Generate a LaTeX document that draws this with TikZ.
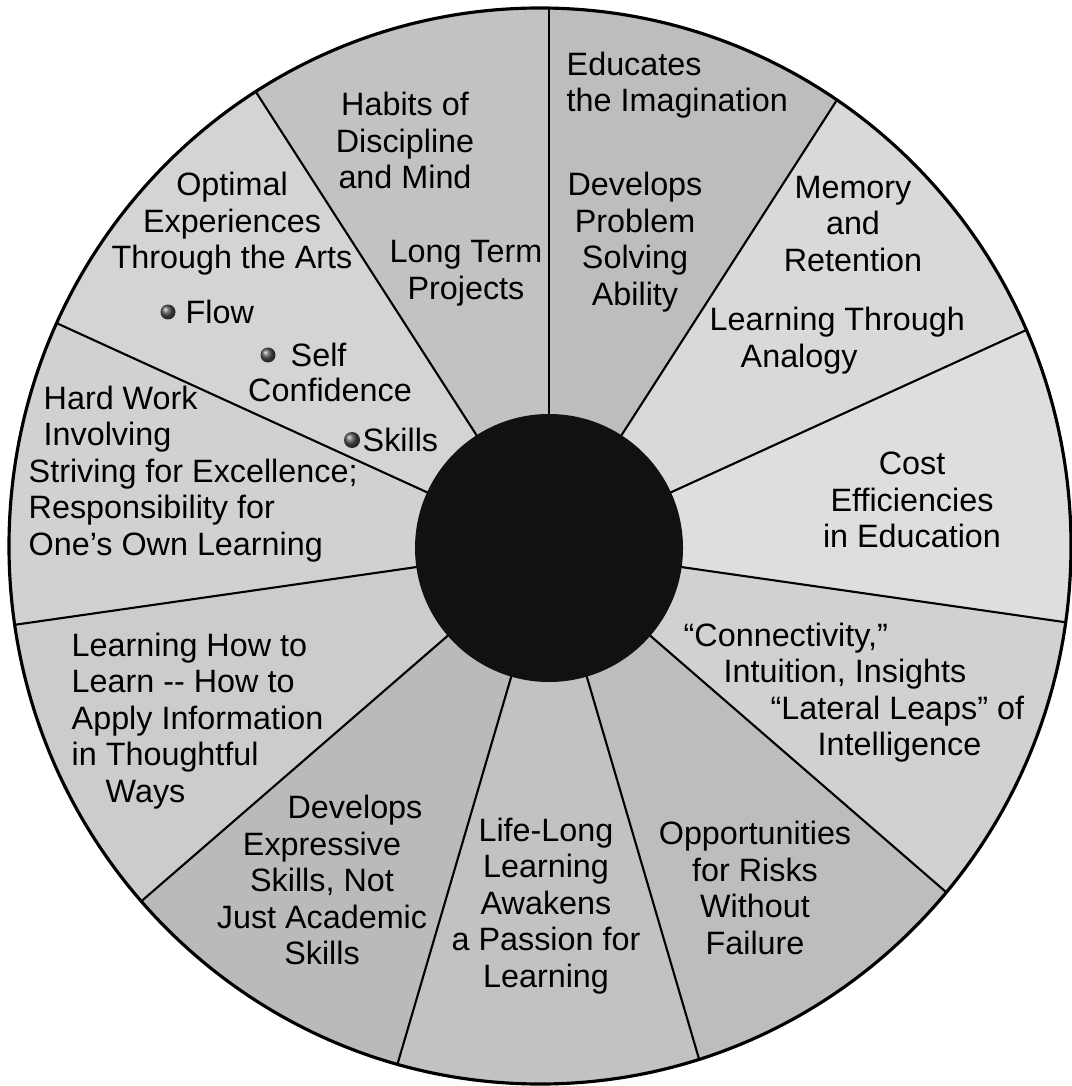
\documentclass[tikz,border=0pt]{standalone}
\usepackage{fontspec}
\setmainfont{Liberation Sans}
\usetikzlibrary{calc}
\definecolor{hub}{HTML}{111111}
\definecolor{dotgray}{HTML}{505050}

\begin{document}
\begin{tikzpicture}[
  txt/.style={align=center, inner sep=0pt, font=\fontsize{9.2}{10.4}\selectfont},
  lefttxt/.style={txt, align=left, anchor=west},
  spoke/.style={line width=0.6pt},
  bullet/.style={ball color=dotgray}]
  \useasboundingbox (0,0) rectangle (10.71,-10.86);
  \coordinate (c) at (5.49,-5.48);
  \coordinate (o) at (5.40,-5.46);
  % Sectors and spokes
  \begin{scope}
    \clip (o) ellipse [x radius=5.31, y radius=5.38];
    \foreach \k/\s in {0/26, 1/15, 2/13, 3/18, 4/26, 5/24, 6/27, 7/20, 8/18, 9/17, 10/24}
      \fill[black!\s] (c) -- +({90-\k*360/11}:8) -- +({90-(\k+0.5)*360/11}:8)
        -- +({90-(\k+1)*360/11}:8) -- cycle;
    \foreach \k in {0,...,10}
      \draw[spoke] (c) -- +({90-\k*360/11}:8);
  \end{scope}
  \draw[line width=0.9pt] (o) ellipse [x radius=5.31, y radius=5.38];
  % Hub
  \fill[hub] (c) circle (1.34);
  % Upper left
  \node[txt] (habits) at (4.05,-1.405) {Habits of\\Discipline\\and Mind};
  \node[txt] (longterm) at (4.66,-2.735) {Long Term\\Projects};
  \node[txt] (optimal) at (2.32,-2.24) {Optimal\\Experiences\\Through the Arts};
  \shade[bullet] (1.68,-3.12) circle (0.075);
  \node[lefttxt] (flow) at (1.85,-3.12) {Flow};
  \shade[bullet] (2.68,-3.55) circle (0.075);
  \node[lefttxt] (self) at (2.90,-3.55) {Self};
  \node[txt] (confidence) at (3.30,-3.90) {Confidence};
  \shade[bullet] (3.52,-4.40) circle (0.08);
  \node[lefttxt] (skills) at (3.62,-4.40) {Skills};
  \node[lefttxt] (hardwork) at (0.28,-4.74)
    {\hspace*{0.15cm}Hard Work\\\hspace*{0.15cm}Involving\\Striving for Excellence;\\Responsibility for\\One's Own Learning};
  % Upper right
  \node[lefttxt] (educates) at (5.66,-0.85) {Educates\\the Imagination};
  \node[txt] (develops) at (6.35,-2.42) {Develops\\Problem\\Solving\\Ability};
  \node[txt] (memory) at (8.53,-2.24) {Memory\\and\\Retention};
  \node[lefttxt] (analogy) at (7.09,-3.405) {Learning Through\\\hspace*{0.31cm}Analogy};
  \node[txt] (cost) at (9.12,-5.00) {Cost\\Efficiencies\\in Education};
  % Lower right
  \node[lefttxt] (connect) at (6.83,-6.925)
    {``Connectivity,''\\\hspace*{0.40cm}Intuition, Insights\\\hspace*{0.87cm}``Lateral Leaps'' of\\\hspace*{1.34cm}Intelligence};
  \node[txt] (risks) at (7.55,-8.88) {Opportunities\\for Risks\\Without\\Failure};
  \node[txt] (lifelong) at (5.46,-9.06) {Life-Long\\Learning\\Awakens\\a Passion for\\Learning};
  % Lower left
  \node[txt] (expressive) at (3.22,-8.80)
    {\hspace*{0.66cm}Develops\\Expressive\\Skills, Not\\Just Academic\\Skills};
  \node[lefttxt] (learnhow) at (0.71,-7.21)
    {Learning How to\\Learn -{}- How to\\Apply Information\\in Thoughtful\\\hspace*{0.34cm}Ways};
\end{tikzpicture}
\end{document}
